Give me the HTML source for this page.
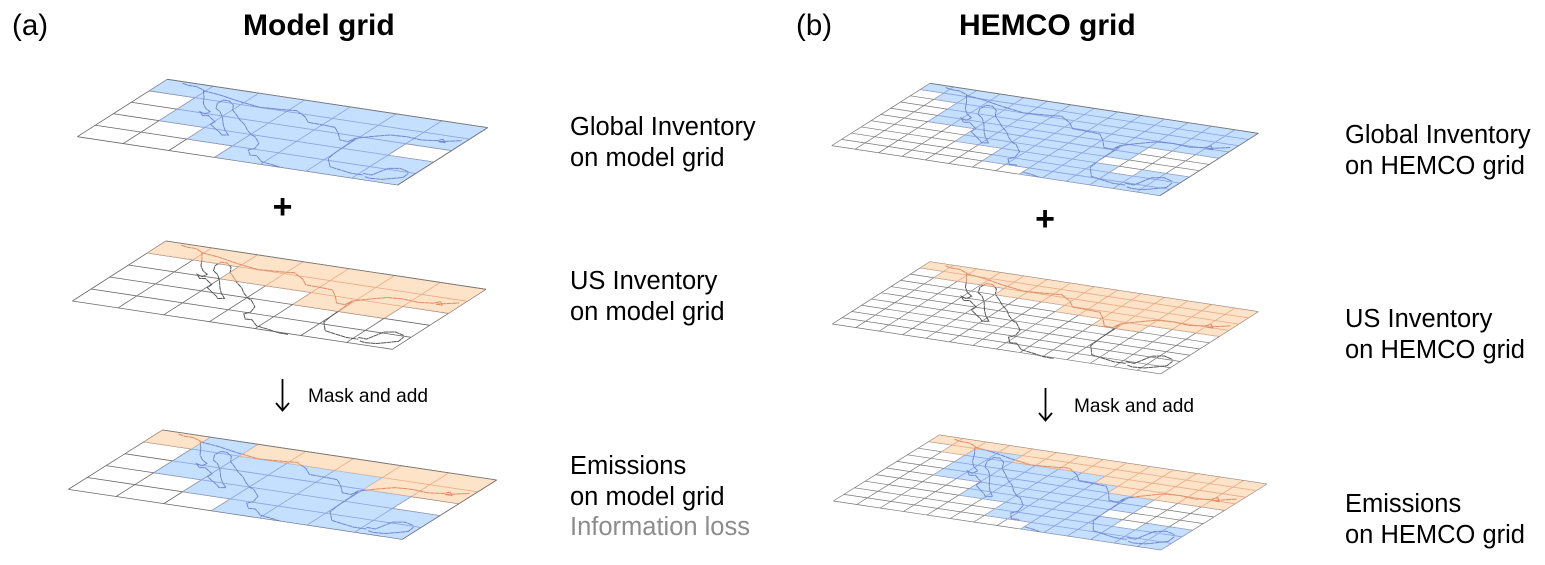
<!DOCTYPE html>
<html>
<head>
<meta charset="utf-8">
<style>
html,body{margin:0;padding:0;background:#fff;width:1545px;height:565px;overflow:hidden}
svg{display:block}
text{font-family:"Liberation Sans",Arial,sans-serif;fill:#000}
.l{font-size:25.5px}
.t{font-size:30px;font-weight:bold}
.p{font-size:29.5px}
.s{font-size:19.1px}
path{vector-effect:non-scaling-stroke;fill:none}
path.f{stroke:none}
</style>
</head>
<body>
<svg width="1545" height="565" viewBox="0 0 1545 565" xmlns="http://www.w3.org/2000/svg">
<defs>
<path id="m" d="M0 0V5M1 0V5M2 0V5M3 0V5M4 0V5M5 0V5M6 0V5M7 0V5M0 0H7M0 1H7M0 2H7M0 3H7M0 4H7M0 5H7"/>
<path id="h" d="M0 0V10M1 0V10M2 0V10M3 0V10M4 0V10M5 0V10M6 0V10M7 0V10M8 0V10M9 0V10M10 0V10M11 0V10M12 0V10M13 0V10M14 0V10M0 0H14M0 1H14M0 2H14M0 3H14M0 4H14M0 5H14M0 6H14M0 7H14M0 8H14M0 9H14M0 10H14"/>
<path id="c" transform="matrix(.005889 -.003544 .009245 .023506 -2.1552 .4830)" stroke-dasharray="5 .4" d="M368 40L385 46 410 50 430 60 432 80 430 100 437 115 450 125 435 132 420 125 428 137 445 137 465 155 452 163 465 175 480 188 485 195 505 195 495 180 490 165 487 140 480 125 468 115 472 100 490 90 508 93 520 105 518 120 530 135 540 150 555 165 562 180 575 195 585 200 597 220 585 235 565 240 570 255 590 257 605 275 640 285 670 295 700 300M430 62L480 75 540 95 600 112 680 120 710 122 735 140 745 157 790 165 825 172 835 190 840 210 865 215 885 205 930 200 990 195 1040 200 1085 210 1130 212 1150 208 1155 218 1135 215 1205 212M885 207L855 228 830 245 805 265 810 290 835 298 875 310 910 315M910 310L935 315 960 305 985 295 1020 295 1045 305M915 320L930 325 965 328 1000 325 1030 322 1045 310"/>
<clipPath id="ca1"><path d="M0 0H7V2H6V3H7V5H3V4H2V3H1V1H0Z"/></clipPath>
<clipPath id="ca2"><path d="M0 0H7V2H6V3H4V2H2V1H0Z"/></clipPath>
<clipPath id="ca3o"><path d="M0 0H1V1H0ZM2 0H7V2H5V1H2Z"/></clipPath>
<clipPath id="ca3b"><path d="M1 0H2V1H5V2H6V3H7V5H3V4H2V3H1Z"/></clipPath>
<clipPath id="cb1"><path d="M0 0H14V4H11V6H10V7H11V8H12V7H14V10H8V9H6V7H4V5H2V2H1V1H0Z"/></clipPath>
<clipPath id="cb2"><path d="M0 0H14V4H11V5H9V4H7V3H4V2H1V1H0Z"/></clipPath>
<clipPath id="cb3o"><path d="M0 0H14V4H9V3H8V2H4V1H2V2H1V1H0Z"/></clipPath>
<clipPath id="cb3b"><path d="M2 1H4V2H8V3H9V4H11V6H10V7H11V8H12V7H14V10H8V9H6V7H4V5H2Z"/></clipPath>
</defs>

<!-- a1 -->
<g transform="matrix(45.76 6.90 -18 11.47 167.33 79.33)">
  <use href="#m" stroke="#6a6a6a" stroke-width=".8"/>
  <g clip-path="url(#ca1)">
    <path class="f" style="fill:#c5e0ff" d="M0 0H7V5H0Z"/>
    <use href="#m" stroke="#8aa0e0" stroke-width=".8"/>
    <use href="#c" stroke="#7086cf" stroke-width="1"/>
  </g>
  <path d="M0 0H7M7 0L7 5" stroke="#777" stroke-width=".8"/>
</g>

<!-- a2 -->
<g transform="matrix(45.71 6.90 -18.73 12 166 241)">
  <use href="#m" stroke="#6a6a6a" stroke-width=".8"/>
  <use href="#c" stroke="#555" stroke-width="1"/>
  <g clip-path="url(#ca2)">
    <path class="f" style="fill:#fde3c8" d="M0 0H7V5H0Z"/>
    <use href="#m" stroke="#eba985" stroke-width=".8"/>
    <use href="#c" stroke="#dc8c68" stroke-width="1"/>
  </g>
  <path d="M0 0H7" stroke="#777" stroke-width=".8"/>
</g>

<!-- a3 -->
<g transform="matrix(47.71 7.14 -18.87 11.87 162.67 430)">
  <use href="#m" stroke="#6a6a6a" stroke-width=".8"/>
  <g clip-path="url(#ca3b)">
    <path class="f" style="fill:#c5e0ff" d="M0 0H7V5H0Z"/>
    <use href="#m" stroke="#8aa0e0" stroke-width=".8"/>
    <use href="#c" stroke="#7086cf" stroke-width="1"/>
  </g>
  <g clip-path="url(#ca3o)">
    <path class="f" style="fill:#fde3c8" d="M0 0H7V5H0Z"/>
    <use href="#m" stroke="#eba985" stroke-width=".8"/>
    <use href="#c" stroke="#dc8c68" stroke-width="1"/>
  </g>
  <path d="M0 0H7M7 0L7 5" stroke="#777" stroke-width=".8"/>
</g>

<!-- b1 -->
<g transform="matrix(23.45 3.57 -9.83 6.23 930 83.33)">
  <use href="#h" stroke="#777" stroke-width=".7"/>
  <g clip-path="url(#cb1)">
    <path class="f" style="fill:#c5e0ff" d="M0 0H14V10H0Z"/>
    <use href="#h" stroke="#8aa0e0" stroke-width=".8"/>
    <g transform="scale(2)"><use href="#c" stroke="#7086cf" stroke-width="1"/></g>
  </g>
  <path d="M0 0H14M14 0V10" stroke="#777" stroke-width=".8"/>
</g>

<!-- b2 -->
<g transform="matrix(23.45 3.57 -9.77 6.23 930 261.67)">
  <use href="#h" stroke="#777" stroke-width=".7"/>
  <g transform="scale(2)"><use href="#c" stroke="#555" stroke-width="1"/></g>
  <g clip-path="url(#cb2)">
    <path class="f" style="fill:#fde3c8" d="M0 0H14V10H0Z"/>
    <use href="#h" stroke="#eba985" stroke-width=".8"/>
    <g transform="scale(2)"><use href="#c" stroke="#dc8c68" stroke-width="1"/></g>
  </g>
</g>

<!-- b3 -->
<g transform="matrix(23.4 3.5 -10.6 6.6 939.33 435)">
  <use href="#h" stroke="#777" stroke-width=".7"/>
  <g clip-path="url(#cb3b)">
    <path class="f" style="fill:#c5e0ff" d="M0 0H14V10H0Z"/>
    <use href="#h" stroke="#8aa0e0" stroke-width=".8"/>
    <g transform="scale(2)"><use href="#c" stroke="#7086cf" stroke-width="1"/></g>
  </g>
  <g clip-path="url(#cb3o)">
    <path class="f" style="fill:#fde3c8" d="M0 0H14V10H0Z"/>
    <use href="#h" stroke="#eba985" stroke-width=".8"/>
    <g transform="scale(2)"><use href="#c" stroke="#dc8c68" stroke-width="1"/></g>
  </g>
</g>

<!-- arrows -->
<path d="M282.5 379V410M276 403L282.5 410.5 289 403" stroke="#000" stroke-width="1.8"/>
<path d="M1045.5 388V420M1039 413L1045.5 420.5 1052 413" stroke="#000" stroke-width="1.8"/>

<!-- text -->
<text class="p" x="12" y="35">(a)</text>
<text class="t" x="243" y="35">Model grid</text>
<text class="p" x="796" y="35">(b)</text>
<text class="t" x="959" y="35">HEMCO grid</text>

<text x="282.5" y="218" text-anchor="middle" font-size="34" font-weight="bold">+</text>
<text x="1045" y="230" text-anchor="middle" font-size="34" font-weight="bold">+</text>

<text class="s" x="308" y="402">Mask and add</text>
<text class="s" x="1074" y="412">Mask and add</text>

<text class="l" x="570" y="135">Global Inventory</text>
<text class="l" x="570" y="166">on model grid</text>
<text class="l" x="570" y="289">US Inventory</text>
<text class="l" x="570" y="320">on model grid</text>
<text class="l" x="570" y="474">Emissions</text>
<text class="l" x="570" y="505">on model grid</text>
<text class="l" x="570" y="535" style="fill:#8c8c8c">Information loss</text>

<text class="l" x="1345" y="143">Global Inventory</text>
<text class="l" x="1345" y="174">on HEMCO grid</text>
<text class="l" x="1345" y="327">US Inventory</text>
<text class="l" x="1345" y="358">on HEMCO grid</text>
<text class="l" x="1345" y="512">Emissions</text>
<text class="l" x="1345" y="543">on HEMCO grid</text>
</svg>
</body>
</html>
